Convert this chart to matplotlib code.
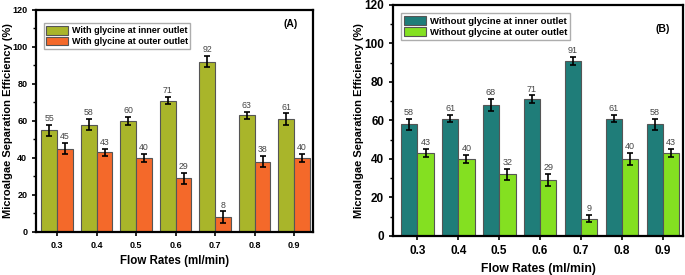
import numpy as np
import matplotlib.pyplot as plt
from matplotlib.ticker import MultipleLocator

plt.rcParams['font.family'] = ['Liberation Sans', 'DejaVu Sans']

flow_rates = ["0.3", "0.4", "0.5", "0.6", "0.7", "0.8", "0.9"]

# panel A - with glycine
with_inner = [55, 58, 60, 71, 92, 63, 61]
with_inner_err = [3, 3, 2, 2, 3, 2, 3]
with_outer = [45, 43, 40, 29, 8, 38, 40]
with_outer_err = [3, 2, 2, 3, 3, 3, 2]

# panel B - without glycine
without_inner = [58, 61, 68, 71, 91, 61, 58]
without_inner_err = [3, 2, 3, 2, 2, 2, 3]
without_outer = [43, 40, 32, 29, 9, 40, 43]
without_outer_err = [2, 2, 3, 3, 2, 3, 2]


def draw_panel(ax, inner, inner_err, outer, outer_err, c1, c2, lab1, lab2,
               tag, tick_fs, label_fs, leg_fs, xlim, leg_anchor, tag_pos,
               xlab_fs, ylab_fs, ylab_x):
    x = np.arange(len(flow_rates))
    w = 0.4
    ax.bar(x - w / 2, inner, w, color=c1, edgecolor="#555555",
           linewidth=0.8, label=lab1)
    ax.bar(x + w / 2, outer, w, color=c2, edgecolor="#555555",
           linewidth=0.8, label=lab2)
    ax.errorbar(x - w / 2, inner, yerr=inner_err, fmt="none", ecolor="black",
                elinewidth=1.2, capsize=2.5, capthick=1.2)
    ax.errorbar(x + w / 2, outer, yerr=outer_err, fmt="none", ecolor="black",
                elinewidth=1.2, capsize=2.5, capthick=1.2)
    for xi, v, e in zip(x - w / 2, inner, inner_err):
        ax.text(xi, v + e + 1, str(v), ha="center", va="bottom",
                fontsize=label_fs, color="#444444")
    for xi, v, e in zip(x + w / 2, outer, outer_err):
        ax.text(xi, v + e + 1, str(v), ha="center", va="bottom",
                fontsize=label_fs, color="#444444")

    ax.set_ylim(0, 120)
    ax.set_xlim(*xlim)
    ax.set_xticks(x)
    ax.set_xticklabels(flow_rates)
    ax.yaxis.set_major_locator(MultipleLocator(20))
    ax.yaxis.set_minor_locator(MultipleLocator(10))
    ax.tick_params(axis="both", which="major", direction="out", length=3,
                   width=1.2, labelsize=tick_fs)
    ax.tick_params(axis="y", which="minor", direction="out", length=2,
                   width=1)
    for lbl in ax.get_xticklabels() + ax.get_yticklabels():
        lbl.set_fontweight("bold")
    for sp in ax.spines.values():
        sp.set_linewidth(1.6)

    ax.set_xlabel("Flow Rates (ml/min)", fontsize=xlab_fs, fontweight="bold")
    ax.set_ylabel("Microalgae Separation Efficiency (%)", fontsize=ylab_fs,
                  fontweight="bold")
    ax.yaxis.set_label_coords(ylab_x, 0.5)
    ax.legend(loc="upper left", bbox_to_anchor=leg_anchor,
              frameon=True, fancybox=False,
              edgecolor="#999999", handlelength=2.4, handleheight=1.1,
              borderpad=0.3, labelspacing=0.15, handletextpad=0.4,
              prop={"weight": "bold", "size": leg_fs})
    ax.text(tag_pos[0], tag_pos[1], tag, transform=ax.transAxes,
            fontsize=7.5, fontweight="bold", ha="center", va="center")


fig = plt.figure(figsize=(6.85, 2.75), dpi=100)

ax1 = fig.add_axes([0.053, 0.157, 0.404, 0.807])
draw_panel(ax1, with_inner, with_inner_err, with_outer, with_outer_err,
           "#a9b52a", "#f4692a",
           "With glycine at inner outlet", "With glycine at outer outlet",
           "(A)", 6.5, 6.3, 6.5, (-0.53, 6.48), (0.01, 0.96), (0.92, 0.935),
           8.3, 8, -0.085)

ax2 = fig.add_axes([0.574, 0.142, 0.423, 0.84])
draw_panel(ax2, without_inner, without_inner_err, without_outer,
           without_outer_err, "#1f7d79", "#84e021",
           "Without glycine at inner outlet", "Without glycine at outer outlet",
           "(B)", 8.5, 6.5, 6.8, (-0.59, 6.49), (0.01, 0.985), (0.93, 0.895),
           8.7, 8, -0.1)

fig.savefig("out.png", dpi=100)
